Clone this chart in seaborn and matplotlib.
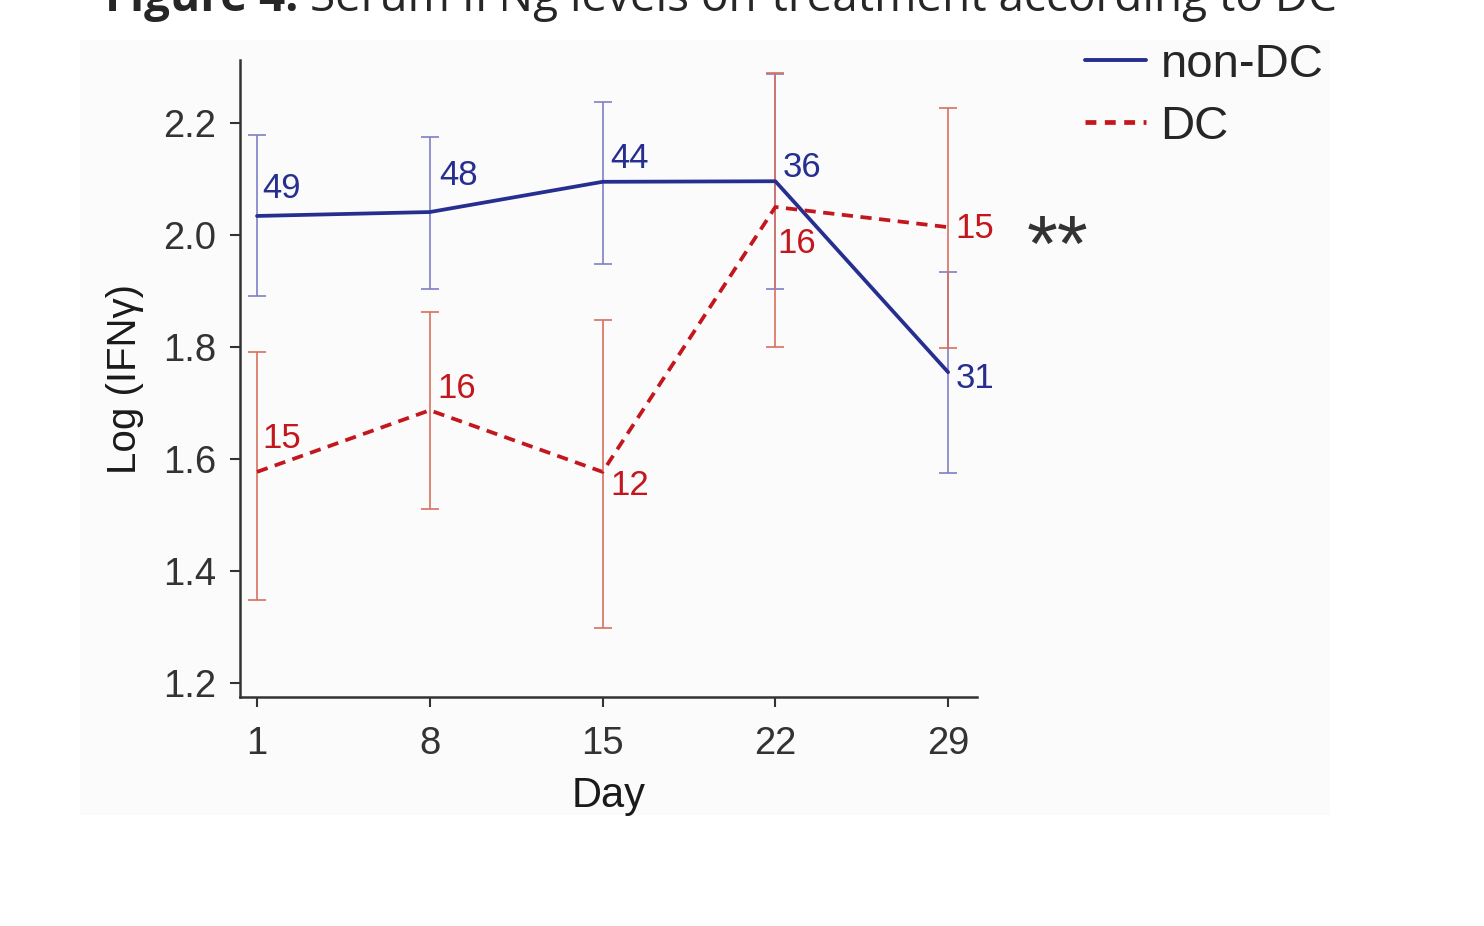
import numpy as np
import pandas as pd
import matplotlib
matplotlib.use("Agg")
import matplotlib.pyplot as plt
from matplotlib.lines import Line2D
import seaborn as sns

sns.set_style("ticks")
plt.rcParams['font.family'] = ['Liberation Sans', 'DejaVu Sans']

# 값
days = [1, 8, 15, 22, 29]
nondc_mean = [2.034, 2.041, 2.095, 2.096, 1.755]
nondc_low = [1.891, 1.904, 1.948, 1.904, 1.575]
nondc_high = [2.179, 2.175, 2.237, 2.288, 1.934]
nondc_n = ['49', '48', '44', '36', '31']

dc_mean = [1.577, 1.687, 1.577, 2.050, 2.014]
dc_low = [1.348, 1.511, 1.298, 1.800, 1.798]
dc_high = [1.791, 1.862, 1.848, 2.290, 2.227]
dc_n = ['15', '16', '12', '16', '15']

groups = ['non-DC', 'DC']
yticks = [1.2, 1.4, 1.6, 1.8, 2.0, 2.2]

df = pd.DataFrame({
    'Day': days * 2,
    'val': nondc_mean + dc_mean,
    'group': [groups[0]] * 5 + [groups[1]] * 5,
})

blue, blue_light = '#262f8f', '#7f80c4'
red, red_light = '#c3161d', '#d9705f'

fig = plt.figure(figsize=(14.84, 9.26), dpi=100)
# 배경 (원본 그림의 옅은 회색 영역)
bg = fig.add_axes([80 / 1484, 1 - 815 / 926, 1250 / 1484, 775 / 926], zorder=-1)
bg.set_axis_off()
bg.add_patch(plt.Rectangle((0, 0), 1, 1, transform=bg.transAxes, color='#fbfbfb'))

ax = fig.add_axes([240 / 1484, 1 - 697 / 926, 737 / 1484, 637 / 926])
ax.set_facecolor('none')

# 오차 막대
ax.errorbar(days, nondc_mean,
            yerr=[np.subtract(nondc_mean, nondc_low), np.subtract(nondc_high, nondc_mean)],
            fmt='none', ecolor=blue_light, elinewidth=1.2, capsize=6.5, capthick=1.2, zorder=2)
ax.errorbar(days, dc_mean,
            yerr=[np.subtract(dc_mean, dc_low), np.subtract(dc_high, dc_mean)],
            fmt='none', ecolor=red_light, elinewidth=1.2, capsize=6.5, capthick=1.2, zorder=2)

sns.lineplot(data=df, x='Day', y='val', hue='group', style='group',
             palette={'non-DC': blue, 'DC': red},
             dashes={'non-DC': '', 'DC': (3, 2)},
             linewidth=2.7, legend=False, ax=ax, zorder=3)

# n 라벨
lab_kw = dict(fontsize=25)
ax.text(1.2, nondc_mean[0] + 0.02, nondc_n[0], color=blue, ha='left', va='bottom', **lab_kw)
ax.text(8.4, nondc_mean[1] + 0.035, nondc_n[1], color=blue, ha='left', va='bottom', **lab_kw)
ax.text(15.3, nondc_mean[2] + 0.012, nondc_n[2], color=blue, ha='left', va='bottom', **lab_kw)
ax.text(22.3, nondc_mean[3] - 0.005, nondc_n[3], color=blue, ha='left', va='bottom', **lab_kw)
ax.text(29.3, nondc_mean[4] - 0.012, nondc_n[4], color=blue, ha='left', va='center', **lab_kw)

ax.text(1.2, dc_mean[0] + 0.03, dc_n[0], color=red, ha='left', va='bottom', **lab_kw)
ax.text(8.3, dc_mean[1] + 0.01, dc_n[1], color=red, ha='left', va='bottom', **lab_kw)
ax.text(15.3, dc_mean[2] - 0.025, dc_n[2], color=red, ha='left', va='center', **lab_kw)
ax.text(22.1, dc_mean[3] - 0.035, dc_n[3], color=red, ha='left', va='top', **lab_kw)
ax.text(29.3, dc_mean[4] - 0.002, dc_n[4], color=red, ha='left', va='center', **lab_kw)

ax.text(32.2, 1.935, '**', fontsize=57, color='#333333', ha='left', va='baseline')

ax.set_xlim(0.31, 30.17)
ax.set_ylim(1.175, 2.3125)
ax.set_xticks(days)
ax.set_yticks(yticks)
ax.set_yticklabels([f'{t:.1f}' for t in yticks])
ax.tick_params(labelsize=27.5, colors='#333333', width=1.5, length=7)
ax.tick_params(axis='y', pad=10)
ax.tick_params(axis='x', pad=14)
for s in ['left', 'bottom']:
    ax.spines[s].set_color('#333333')
    ax.spines[s].set_linewidth(1.8)
sns.despine(ax=ax)

ax.set_xlabel('Day', fontsize=30, color='#1a1a1a', labelpad=10)
ax.set_ylabel('Log (IFNγ)', fontsize=29, color='#1a1a1a', labelpad=14)

# 범례
handles = [Line2D([], [], color=blue, lw=2.8),
           Line2D([], [], color=red, lw=3.4, ls=(0, (2.3, 1.8)))]
fig.legend(handles, groups, loc='upper left', bbox_to_anchor=(1066 / 1484, 1 - 24 / 926),
           frameon=False, fontsize=34, handlelength=1.3, handletextpad=0.3,
           labelspacing=0.38, borderaxespad=0)

# 제목 (원본에서 위쪽이 잘려 있음)
t1 = fig.text(105 / 1484, 1 - 11 / 926, 'Figure 4.', fontsize=33, fontweight='bold',
              family='Open Sans', va='baseline', ha='left')
fig.canvas.draw()
bb = t1.get_window_extent()
fig.text((bb.x1 + 12) / 1484, 1 - 11 / 926, 'Serum IFNg levels on-treatment according to DC',
         fontsize=33, family='Open Sans', va='baseline', ha='left')

plt.savefig('out.png', dpi=100)
